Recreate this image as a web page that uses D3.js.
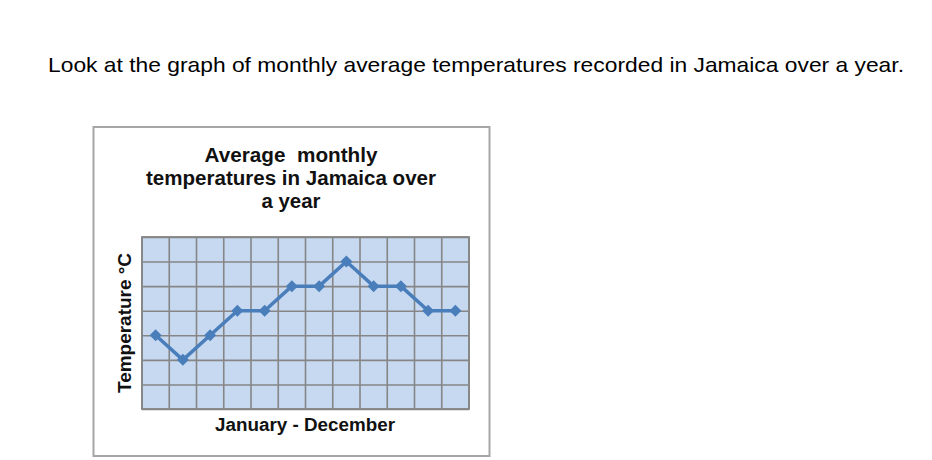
<!DOCTYPE html>
<html>
<head>
<meta charset="utf-8">
<script src="https://cdn.jsdelivr.net/npm/d3@7"></script>
<style>
  html, body { margin: 0; padding: 0; background: #fff; }
  svg { display: block; }
</style>
</head>
<body>
<svg id="chart" width="932" height="460"></svg>
<script>
// ---- data ----
const months = ["Jan", "Feb", "Mar", "Apr", "May", "Jun", "Jul", "Aug", "Sep", "Oct", "Nov", "Dec"];
const temperatures = [25, 24, 25, 26, 26, 27, 27, 28, 27, 27, 26, 26];
const yTicks = [22, 23, 24, 25, 26, 27, 28, 29];
const headerText = "Look at the graph of monthly average temperatures recorded in Jamaica over a year.";
const titleLines = ["Average  monthly", "temperatures in Jamaica over", "a year"];
const xAxisLabel = "January - December";
const yAxisLabel = "Temperature \u00B0C";

// ---- layout ----
const svg = d3.select("#chart");
const font = "'Liberation Sans', Arial, Helvetica, sans-serif";
const plot = { left: 142, right: 469, top: 237, bottom: 409 };
const frame = { x: 93.5, y: 127, w: 396, h: 329 };
const titleWidths = [173, 290, 59];

// header sentence
svg.append("text")
  .attr("x", 48).attr("y", 72)
  .attr("font-family", font).attr("font-size", 21)
  .attr("fill", "#000")
  .attr("textLength", 856).attr("lengthAdjust", "spacingAndGlyphs")
  .text(headerText);

// chart frame
svg.append("rect")
  .attr("x", frame.x).attr("y", frame.y)
  .attr("width", frame.w).attr("height", frame.h)
  .attr("fill", "#fff").attr("stroke", "#a6a6a6").attr("stroke-width", 2);

// title
const cx = 291;
svg.append("g").selectAll("text").data(titleLines).join("text")
  .attr("x", cx).attr("y", (d, i) => 162 + i * 23)
  .attr("text-anchor", "middle")
  .attr("font-family", font).attr("font-size", 19.5).attr("font-weight", "bold")
  .attr("fill", "#111")
  .attr("textLength", (d, i) => titleWidths[i]).attr("lengthAdjust", "spacingAndGlyphs")
  .style("white-space", "pre")
  .text(d => d);

// scales
const x = d3.scaleBand().domain(months).range([plot.left, plot.right]).paddingInner(0).paddingOuter(0);
const y = d3.scaleLinear().domain([yTicks[0], yTicks[yTicks.length - 1]]).range([plot.bottom, plot.top]);

// plot background
svg.append("rect")
  .attr("x", plot.left).attr("y", plot.top)
  .attr("width", plot.right - plot.left).attr("height", plot.bottom - plot.top)
  .attr("fill", "#c6d9f1");

// grid: vertical (band boundaries)
const xBounds = months.map(m => x(m)).concat([x(months[months.length - 1]) + x.bandwidth()]);
svg.append("g").selectAll("line").data(xBounds).join("line")
  .attr("x1", d => d).attr("x2", d => d)
  .attr("y1", plot.top).attr("y2", plot.bottom)
  .attr("stroke", "#868686").attr("stroke-width", 1.6);

// grid: horizontal via axis
const yAxis = d3.axisLeft(y).tickValues(yTicks).tickSize(-(plot.right - plot.left)).tickFormat("");
const gy = svg.append("g").attr("transform", `translate(${plot.left},0)`).call(yAxis);
gy.select(".domain").remove();
gy.selectAll(".tick line").attr("stroke", "#868686").attr("stroke-width", 1.6);

// plot border
svg.append("rect")
  .attr("x", plot.left).attr("y", plot.top)
  .attr("width", plot.right - plot.left).attr("height", plot.bottom - plot.top)
  .attr("fill", "none").attr("stroke", "#868686").attr("stroke-width", 1.8);

// line
const line = d3.line()
  .x((d, i) => x(months[i]) + x.bandwidth() / 2)
  .y(d => y(d));
svg.append("path").datum(temperatures)
  .attr("d", line)
  .attr("fill", "none").attr("stroke", "#4a7ebb").attr("stroke-width", 3.5)
  .attr("stroke-linejoin", "round");

// diamond markers
const diamond = d3.symbol().type(d3.symbolSquare).size(72);
svg.append("g").selectAll("path").data(temperatures).join("path")
  .attr("d", diamond)
  .attr("transform", (d, i) => `translate(${x(months[i]) + x.bandwidth() / 2},${y(d)}) rotate(45)`)
  .attr("fill", "#4a7ebb");

// axis labels
svg.append("text")
  .attr("x", 305).attr("y", 431)
  .attr("text-anchor", "middle")
  .attr("font-family", font).attr("font-size", 18).attr("font-weight", "bold")
  .attr("fill", "#111")
  .attr("textLength", 180).attr("lengthAdjust", "spacingAndGlyphs")
  .text(xAxisLabel);

svg.append("text")
  .attr("transform", `translate(131,${(plot.top + plot.bottom) / 2}) rotate(-90)`)
  .attr("text-anchor", "middle")
  .attr("font-family", font).attr("font-size", 18).attr("font-weight", "bold")
  .attr("fill", "#111")
  .attr("textLength", 140).attr("lengthAdjust", "spacingAndGlyphs")
  .text(yAxisLabel);
</script>
</body>
</html>
